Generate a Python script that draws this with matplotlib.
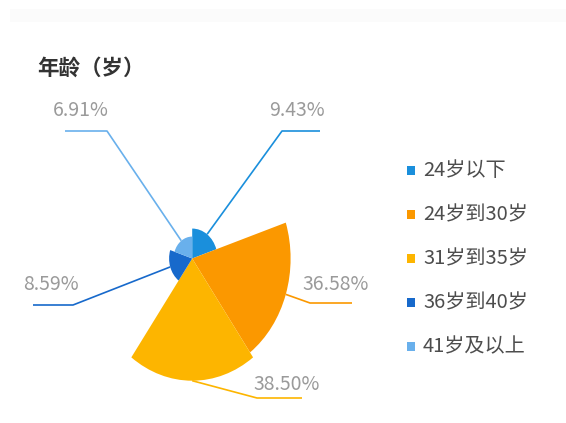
import matplotlib
matplotlib.use("Agg")
import matplotlib.pyplot as plt
from matplotlib.patches import Wedge, Rectangle
from matplotlib.transforms import Affine2D
import numpy as np

plt.rcParams['font.family'] = ['Noto Sans CJK SC', 'DejaVu Sans']

# Age distribution (nightingale rose, equal angles, radius by share)
categories = ['24岁以下', '24岁到30岁', '31岁到35岁', '36岁到40岁', '41岁及以上']
shares = [9.43, 36.58, 38.50, 8.59, 6.91]
colors = ['#1a8fdc', '#fb9800', '#fdb500', '#1769cb', '#69b0ec']
title = '年龄（岁）'

W, H = 566, 423
fig = plt.figure(figsize=(W / 100, H / 100), dpi=100)
ax = fig.add_axes([0, 0, 1, 1])
ax.set_xlim(0, W)
ax.set_ylim(H, 0)
ax.axis('off')

# faint header band
ax.add_patch(Rectangle((10, 9), W - 10, 13, facecolor='#fbfbfb', edgecolor='none'))

ax.text(37, 68, title, fontsize=15.5, fontweight='bold', color='#333333',
        ha='left', va='center')

cx, cy = 192.2, 258.5      # pie centre
sy = 1.18                  # vertical stretch of the pie
k = 2.69                   # radius per percent
pie_tf = Affine2D().scale(1, -sy).translate(cx, cy) + ax.transData

n = len(shares)
step = 360.0 / n
for i, (v, c) in enumerate(zip(shares, colors)):
    t2 = 90 - step * i
    t1 = t2 - step
    ax.add_patch(Wedge((0, 0), v * k, t1, t2, facecolor=c, edgecolor='none',
                       transform=pie_tf))

# label guide lines: elbow and end positions, text anchor
label_layout = [
    dict(elbow=(282, 131), end=(320, 131), text=(325, 111), ha='right'),
    dict(elbow=(310, 303), end=(352, 303), text=(302, 285), ha='left'),
    dict(elbow=(257, 398), end=(302, 398), text=(253, 384), ha='left'),
    dict(elbow=(73, 305), end=(33, 305), text=(23, 285), ha='left'),
    dict(elbow=(107, 131), end=(65, 131), text=(53, 110), ha='left'),
]
for i, (v, c, lay) in enumerate(zip(shares, colors, label_layout)):
    mid = np.deg2rad(90 - step * i - step / 2)
    r = v * k
    sx_, sy_ = cx + r * np.cos(mid), cy - sy * r * np.sin(mid)
    xs = [sx_, lay['elbow'][0], lay['end'][0]]
    ys = [sy_, lay['elbow'][1], lay['end'][1]]
    ax.plot(xs, ys, color=c, lw=1.2, solid_capstyle='butt')
    ax.text(lay['text'][0], lay['text'][1], f'{v:.2f}%', fontsize=14,
            color='#9a9a9a', ha=lay['ha'], va='center')

# legend
for i, (cat, c) in enumerate(zip(categories, colors)):
    y = 171 + 44 * i
    ax.add_patch(Rectangle((407, y - 4.5), 7.5, 9, facecolor=c, edgecolor='none'))
    ax.text(423, y, cat, fontsize=14.5, color='#4d4d4d', ha='left', va='center')

fig.savefig('out.png', dpi=100)
